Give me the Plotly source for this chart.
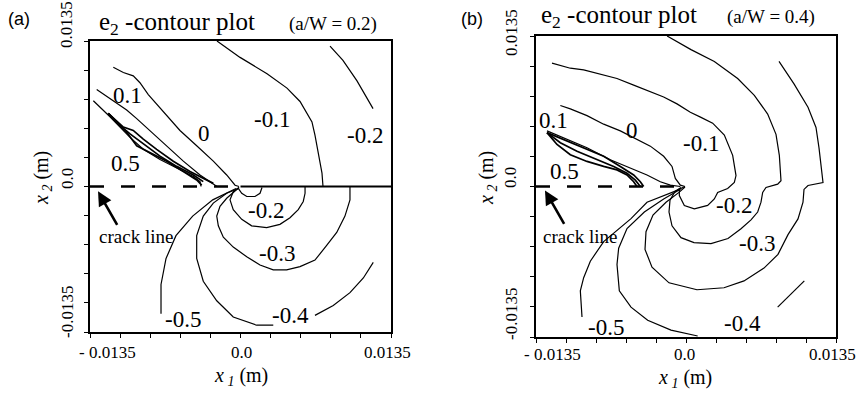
import plotly.graph_objects as go

W, H = 857, 393
MM = 1e-3  # contour coordinates below are stored in mm

# ---------------- Panel (a): a/W = 0.2 ----------------
a_m02_top_x = [8.03, 9.19, 10.45, 11.34, 11.89]
a_m02_top_y = [13.03, 11.70, 9.80, 8.18, 7.23]
a_m01_x = [-2.11, -0.04, 2.38, 4.17, 5.34, 6.41, 6.68, 6.95, 7.31, 7.40]
a_m01_y = [13.50, 11.98, 10.46, 9.13, 7.89, 5.99, 4.76, 3.14, 1.24, 0.0]
a_0_x = [-11.41, -10.51, -9.62, -9.02, -8.27, -6.92, -5.43, -3.93, -2.44, -1.24, -0.49, -0.13]
a_0_y = [11.06, 10.58, 10.27, 9.63, 8.53, 6.94, 5.20, 3.78, 2.35, 1.07, 0.12, 0.0]
a_p01_x = [-12.90, -12.00, -11.10, -10.21, -9.31, -8.12, -6.62, -5.13, -3.63, -2.44, -2.11]
a_p01_y = [9.01, 8.37, 7.73, 7.10, 6.30, 5.20, 3.78, 2.35, 1.07, 0.29, 0.0]
a_p02_x = [-13.20, -12.31, -11.71, -10.81, -9.91, -8.72, -7.22, -5.72, -4.23, -3.63, -3.54]
a_p02_y = [7.96, 7.10, 6.47, 5.52, 4.56, 3.45, 2.50, 1.71, 0.92, 0.45, 0.0]
a_p03_x = [-11.86, -10.51, -9.62, -8.72, -7.52, -6.03, -4.53, -3.34, -2.44]
a_p03_y = [6.78, 5.52, 5.20, 4.40, 3.45, 2.35, 1.40, 0.76, 0.29]
a_p04_x = [-11.86, -10.81, -9.91, -8.72, -7.22, -5.72, -4.23, -3.34]
a_p04_y = [6.78, 5.68, 4.88, 3.93, 2.82, 1.87, 1.07, 0.45]
a_p05_x = [-11.86, -11.10, -10.21, -9.31, -8.12, -6.62, -5.13, -3.93, -3.48]
a_p05_y = [6.78, 5.99, 5.04, 3.78, 3.14, 2.35, 1.40, 0.60, 0.12]
a_sym_x = [0.0, 13.5]
a_sym_y = [0.0, 0.0]
a_bump_x = [-0.20, 0.11, 0.56, 1.30, 1.75, 1.93]
a_bump_y = [-0.18, -0.63, -0.93, -0.93, -0.63, -0.09]
a_m02_x = [5.79, 5.79, 5.63, 5.18, 4.44, 3.54, 2.35, 1.00, 0.11, -0.65, -0.94, -0.65, -0.13]
a_m02_y = [0.0, -0.63, -1.39, -2.15, -2.90, -3.51, -3.81, -3.65, -3.05, -2.15, -1.24, -0.48, -0.09]
a_m03_x = [9.82, 9.82, 9.37, 8.63, 7.73, 6.68, 5.34, 4.14, 2.94, 1.75, 0.56, -0.65, -1.54,
           -1.99, -2.13, -1.84, -1.24, -0.49, -0.13]
a_m03_y = [0.0, -1.24, -2.75, -4.26, -5.47, -6.83, -7.43, -7.73, -7.73, -7.28, -6.52, -5.62,
           -4.71, -3.65, -2.75, -1.84, -1.09, -0.36, -0.09]
a_m04_x = [-0.20, -1.24, -2.44, -3.34, -3.93, -3.93, -3.34, -2.13, -0.65, 1.45, 2.94]
a_m04_y = [-0.18, -0.63, -1.54, -2.75, -4.56, -6.68, -8.79, -10.60, -12.11, -12.87, -12.87]
a_m04b_x = [6.68, 8.32, 9.82, 11.02, 11.91]
a_m04b_y = [-11.96, -11.05, -9.85, -8.49, -7.04]
a_m05_x = [-0.40, -2.49, -4.29, -5.79, -6.68, -7.13, -7.13]
a_m05_y = [-0.18, -1.24, -2.75, -4.56, -6.68, -9.09, -11.81]

# ---------------- Panel (b): a/W = 0.4 ----------------
b_m01_x = [-12.06, -10.41, -9.21, -7.41, -6.21, -4.71, -3.51, -2.01, -0.81, 0.39, 1.35, 2.40,
           3.45, 4.20, 4.50, 4.35, 3.75, 2.85, 2.55, 1.95, 0.75, -0.15, -0.60, -0.60, -0.09]
b_m01_y = [11.06, 10.61, 10.46, 10.00, 9.69, 9.09, 8.64, 8.03, 7.41, 6.66, 6.20, 5.68,
           4.62, 2.80, 0.98, 0.36, -0.18, -0.53, -1.12, -1.70, -2.00, -1.70, -0.82, -0.24, 0.0]
b_0_x = [-11.31, -10.41, -8.91, -7.41, -5.91, -4.41, -3.21, -2.01, -1.26, -0.96, -0.51, -0.09]
b_0_y = [7.27, 6.96, 6.36, 5.59, 4.99, 4.22, 3.62, 2.71, 1.80, 0.73, 0.12, 0.0]
b_p01_x = [-12.51, -11.01, -8.91, -6.81, -5.01, -3.51, -2.31, -1.41, -0.51]
b_p01_y = [4.99, 4.38, 3.47, 2.40, 1.64, 1.03, 0.43, 0.12, 0.0]
b_p03_x = [-12.51, -11.01, -9.21, -7.41, -5.91, -4.71, -4.11, -3.81]
b_p03_y = [4.83, 4.22, 3.47, 2.71, 1.80, 1.03, 0.43, 0.0]
b_p04_x = [-12.51, -11.31, -9.81, -8.01, -6.51, -5.31, -4.56, -4.11]
b_p04_y = [4.83, 3.92, 3.16, 2.40, 1.80, 1.19, 0.57, 0.0]
b_p05_x = [-12.51, -11.61, -10.41, -8.91, -7.41, -6.21, -5.31, -4.71, -4.41]
b_p05_y = [4.83, 3.77, 2.85, 2.25, 1.80, 1.49, 1.03, 0.43, 0.0]
b_m02_x = [-1.70, 0.45, 2.55, 4.65, 6.15, 7.35, 8.10, 8.40, 8.55, 8.25, 7.20, 6.90, 6.75,
           6.45, 5.85, 4.95, 3.78, 2.25, 0.72, -0.45, -1.26, -1.53, -1.44, -0.99, -0.45]
b_m02_y = [13.50, 12.28, 11.22, 9.69, 8.18, 6.50, 4.68, 2.80, 0.52, 0.21, -0.09, -0.53, -1.41,
           -2.29, -2.99, -3.79, -4.67, -5.12, -5.03, -4.59, -3.53, -2.29, -1.23, -0.44, -0.09]
b_m03_x = [8.37, 9.72, 10.98, 11.70, 11.97, 12.15, 12.33, 10.98, 10.62, 10.53, 10.08, 9.18,
           8.28, 7.02, 5.22, 3.42, 0.99, -1.53, -3.06, -3.69, -3.60, -2.97, -1.80, -0.63, -0.09]
b_m03_y = [11.22, 9.21, 7.11, 5.29, 3.47, 1.92, 0.36, 0.09, -0.26, -1.41, -2.91, -4.32,
           -6.09, -7.32, -8.47, -9.08, -9.26, -8.64, -7.23, -5.64, -4.06, -2.56, -1.41, -0.53, -0.04]
b_m04_x = [-0.51, -2.01, -3.75, -5.31, -6.06, -6.21, -6.00, -4.95, -3.45, -1.35, 1.05]
b_m04_y = [-0.24, -1.12, -2.29, -3.77, -5.53, -6.99, -9.35, -10.82, -12.00, -12.88, -13.41]
b_m04b_x = [8.25, 9.45, 10.65]
b_m04b_y = [-10.82, -9.64, -8.47]
b_m05_x = [-0.51, -3.51, -4.95, -7.41, -8.61, -9.21, -9.51, -9.36]
b_m05_y = [-0.24, -1.41, -2.88, -4.94, -6.70, -8.18, -9.35, -11.70]

# crack line (dashed), both panels
crack_x = [-13.5, -0.4]
crack_y = [0.0, 0.0]

# contour level labels: text, x (mm), y (mm)
a_lab_text = ["0.1", "0", "-0.1", "-0.2", "0.5", "-0.2", "-0.3", "-0.4", "-0.5"]
a_lab_x = [-10.14, -3.27, 2.83, 11.17, -10.36, 2.29, 3.27, 4.44, -5.16]
a_lab_y = [8.46, 4.95, 6.18, 4.76, 2.09, -2.27, -6.25, -11.96, -12.32]
b_lab_text = ["0.1", "0", "-0.1", "0.5", "-0.2", "-0.3", "-0.4", "-0.5"]
b_lab_x = [-11.97, -4.86, 1.35, -10.98, 4.32, 6.39, 5.04, -7.20]
b_lab_y = [5.93, 5.02, 3.83, 1.37, -1.68, -5.12, -12.26, -12.61]

# tick labels
x_tick_text = ["- 0.0135", "0.0", "0.0135"]
y_tick_text = ["0.0135", "0.0", "-0.0135"]

SERIF = "Liberation Serif, Times New Roman, serif"
fig = go.Figure()


def add_curve(xs, ys, panel, width=1.2, dash=None):
    xa, ya = ("x", "y") if panel == "a" else ("x2", "y2")
    fig.add_trace(go.Scatter(
        x=[v * MM for v in xs], y=[v * MM for v in ys], mode="lines",
        line=dict(color="black", width=width, dash=dash),
        xaxis=xa, yaxis=ya, showlegend=False, hoverinfo="skip"))


for xs, ys in [(a_m02_top_x, a_m02_top_y), (a_m01_x, a_m01_y), (a_0_x, a_0_y),
               (a_p01_x, a_p01_y), (a_p02_x, a_p02_y), (a_bump_x, a_bump_y),
               (a_m02_x, a_m02_y), (a_m03_x, a_m03_y), (a_m04_x, a_m04_y),
               (a_m04b_x, a_m04b_y), (a_m05_x, a_m05_y)]:
    add_curve(xs, ys, "a")
for xs, ys in [(a_p03_x, a_p03_y), (a_p04_x, a_p04_y), (a_p05_x, a_p05_y)]:
    add_curve(xs, ys, "a", width=1.7)
add_curve(a_sym_x, a_sym_y, "a", width=2.2)
add_curve(crack_x, crack_y, "a", width=2.6, dash="14px,17px")

for xs, ys in [(b_m01_x, b_m01_y), (b_0_x, b_0_y), (b_p01_x, b_p01_y),
               (b_m02_x, b_m02_y), (b_m03_x, b_m03_y), (b_m04_x, b_m04_y),
               (b_m04b_x, b_m04b_y), (b_m05_x, b_m05_y)]:
    add_curve(xs, ys, "b")
for xs, ys in [(b_p03_x, b_p03_y), (b_p04_x, b_p04_y), (b_p05_x, b_p05_y)]:
    add_curve(xs, ys, "b", width=1.7)
add_curve(crack_x, crack_y, "b", width=2.6, dash="14px,17px")


def px(v):
    return v / W


def py(v):
    return 1 - v / H


ann = []


def paper_text(text, x, y, size, family=SERIF, angle=0, xanchor="center"):
    ann.append(dict(text=text, x=px(x), y=py(y), xref="paper", yref="paper",
                    xanchor=xanchor, yanchor="middle", showarrow=False, textangle=angle,
                    font=dict(family=family, size=size, color="black")))


for t, x, y in zip(a_lab_text, a_lab_x, a_lab_y):
    ann.append(dict(text=t, x=x * MM, y=y * MM, xref="x", yref="y", showarrow=False,
                    xanchor="center", yanchor="middle",
                    font=dict(family=SERIF, size=23, color="black")))
for t, x, y in zip(b_lab_text, b_lab_x, b_lab_y):
    ann.append(dict(text=t, x=x * MM, y=y * MM, xref="x2", yref="y2", showarrow=False,
                    xanchor="center", yanchor="middle",
                    font=dict(family=SERIF, size=23, color="black")))

# crack line text + arrows
ann.append(dict(text="crack line", x=-9.37 * MM, y=-4.62 * MM, xref="x", yref="y",
                xanchor="center", yanchor="middle",
                showarrow=False, font=dict(family=SERIF, size=19, color="black")))
ann.append(dict(text="crack line", x=-9.54 * MM, y=-4.50 * MM, xref="x2", yref="y2",
                xanchor="center", yanchor="middle",
                showarrow=False, font=dict(family=SERIF, size=19, color="black")))
ann.append(dict(text="", x=-12.78 * MM, y=-0.45 * MM, xref="x", yref="y", showarrow=True,
                ax=20, ay=35, arrowhead=2, arrowsize=1.1, arrowwidth=2.6, arrowcolor="black",
                standoff=0))
ann.append(dict(text="", x=-12.69 * MM, y=-0.35 * MM, xref="x2", yref="y2", showarrow=True,
                ax=20, ay=35, arrowhead=2, arrowsize=1.1, arrowwidth=2.6, arrowcolor="black",
                standoff=0))

# tick labels and axis titles (paper coords from layout positions)
for (xl, xc, xr, yx), (yt, yc, yb, yy), ytx, xty, xtx in [
        ((107, 241, 387, 352), (25, 179, 312, 67), 43, 376, 241),
        ((552, 684, 832, 354), (33, 178, 314, 511), 488, 378, 685)]:
    for t, xpos in zip(x_tick_text, [xl, xc, xr]):
        paper_text(t, xpos, yx, 17)
    for t, ypos in zip(y_tick_text, [yt, yc, yb]):
        paper_text(t, yy, ypos, 17, angle=-90)
    paper_text("<i>x</i><sub> <i>2</i></sub> (m)", ytx, 178, 20, angle=-90)
    paper_text("<i>x</i><sub> <i>1</i></sub> (m)", xtx, xty, 20)

# titles
for lab, lx, tx, ty, sub, sx, sy in [("(a)", 19, 97, 24, "(a/W = 0.2)", 333, 24),
                                      ("(b)", 472, 539, 16, "(a/W = 0.4)", 771, 17)]:
    paper_text(lab, lx, 19, 18, family="Liberation Sans, Arial, sans-serif")
    paper_text("e<sub>2</sub> -contour plot", tx, ty, 25, xanchor="left")
    paper_text(sub, sx, sy, 19)

ax_common = dict(range=[-0.0135, 0.0135], tick0=0, dtick=0.0027, ticks="outside", ticklen=4,
                 tickwidth=1, tickcolor="black", showticklabels=False, showgrid=False,
                 zeroline=False, showline=True, linewidth=1.5, linecolor="black", mirror=True,
                 fixedrange=True)

fig.update_layout(
    width=W, height=H, margin=dict(l=0, r=0, t=0, b=0),
    paper_bgcolor="white", plot_bgcolor="white", showlegend=False,
    xaxis=dict(domain=[px(90), px(391)], anchor="y", **ax_common),
    yaxis=dict(domain=[py(332), py(41)], anchor="x", **ax_common),
    xaxis2=dict(domain=[px(536), px(836)], anchor="y2", **ax_common),
    yaxis2=dict(domain=[py(337), py(36)], anchor="x2", **ax_common),
    annotations=ann,
)

fig.write_html("out.html")
